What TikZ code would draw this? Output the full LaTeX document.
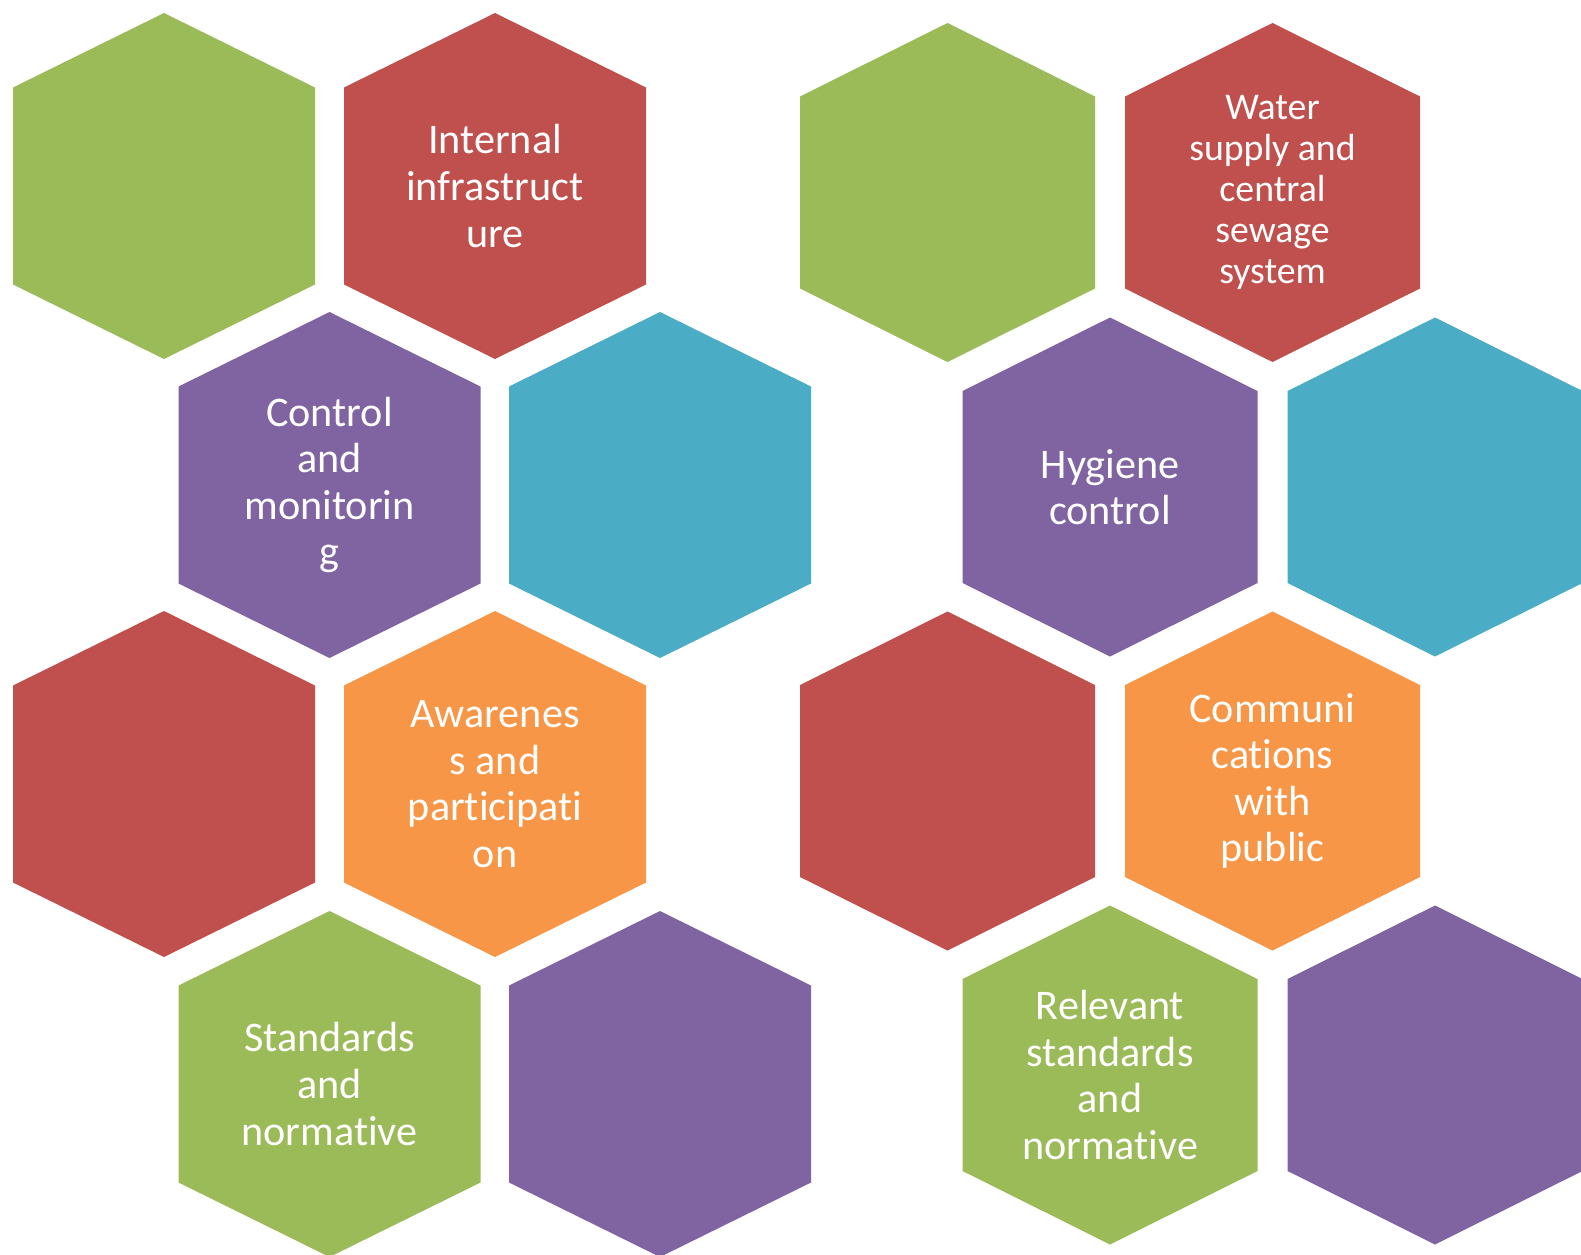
\documentclass[tikz,border=0pt]{standalone}
\usepackage{fontspec}
\setmainfont{Carlito}[Ligatures=NoCommon, RawFeature={-liga;-clig;-calt;-dlig}]

\definecolor{hexgreen}{HTML}{9BBB59}
\definecolor{hexred}{HTML}{C0504D}
\definecolor{hexpurple}{HTML}{8064A2}
\definecolor{hexteal}{HTML}{4BACC6}
\definecolor{hexorange}{HTML}{F79646}

\tikzset{
    bighex/.pic={\fill (0,-173) -- (151,-98.5) -- (151,98.5) -- (0,173) -- (-151,98.5) -- (-151,-98.5) -- cycle;},
    smallhex/.pic={\fill (0,-169.5) -- (147.5,-96) -- (147.5,96) -- (0,169.5) -- (-147.5,96) -- (-147.5,-96) -- cycle;},
    cell text/.style={text=white, align=center, font=\fontsize{24}{26.5}\selectfont},
    small text/.style={cell text, font=\fontsize{21.5}{23.4}\selectfont}
}

\begin{document}
\begin{tikzpicture}[x=0.02cm, y=-0.02cm]
        \useasboundingbox (0,0) rectangle (1581,1254);
        %\draw [help lines, step=100] (0,0) grid (1581,1254);
        
        %left group
        \pic [hexgreen]  at (164,186)  {bighex};
        \pic [hexred]    at (495,186)  {bighex};
        \pic [hexpurple] at (329.5,485) {bighex};
        \pic [hexteal]   at (660,485)  {bighex};
        \pic [hexred]    at (164,784)  {bighex};
        \pic [hexorange] at (495,784)  {bighex};
        \pic [hexgreen]  at (329.5,1084) {bighex};
        \pic [hexpurple] at (660,1084) {bighex};
        
        \node [cell text] (infra)     at (495,186)    {Internal\\infrastruct\\ure};
        \node [cell text] (control)   at (329.5,485)  {Control\\and\\monitorin\\g};
        \node [cell text] (awareness) at (495,784)    {Awarenes\\s and\\participati\\on};
        \node [cell text] (standards) at (329.5,1084) {Standards\\and\\normative};
        
        %right group
        \pic [hexgreen]  at (947.5,192.5)  {smallhex};
        \pic [hexred]    at (1272.5,192.5) {smallhex};
        \pic [hexpurple] at (1110,487)     {smallhex};
        \pic [hexteal]   at (1435,487)     {smallhex};
        \pic [hexred]    at (947.5,781)    {smallhex};
        \pic [hexorange] at (1272.5,781)   {smallhex};
        \pic [hexgreen]  at (1110,1075)    {smallhex};
        \pic [hexpurple] at (1435,1075)    {smallhex};
        
        \node [small text] (water)    at (1272.5,192.5) {Water\\supply and\\central\\sewage\\system};
        \node [cell text]  (hygiene)  at (1110,487)     {Hygiene\\control};
        \node [cell text]  (public)   at (1272.5,781)   {Communi\\cations\\with\\public};
        \node [cell text]  (relevant) at (1110,1075)    {Relevant\\standards\\and\\normative};
        
    \end{tikzpicture}
\end{document}
